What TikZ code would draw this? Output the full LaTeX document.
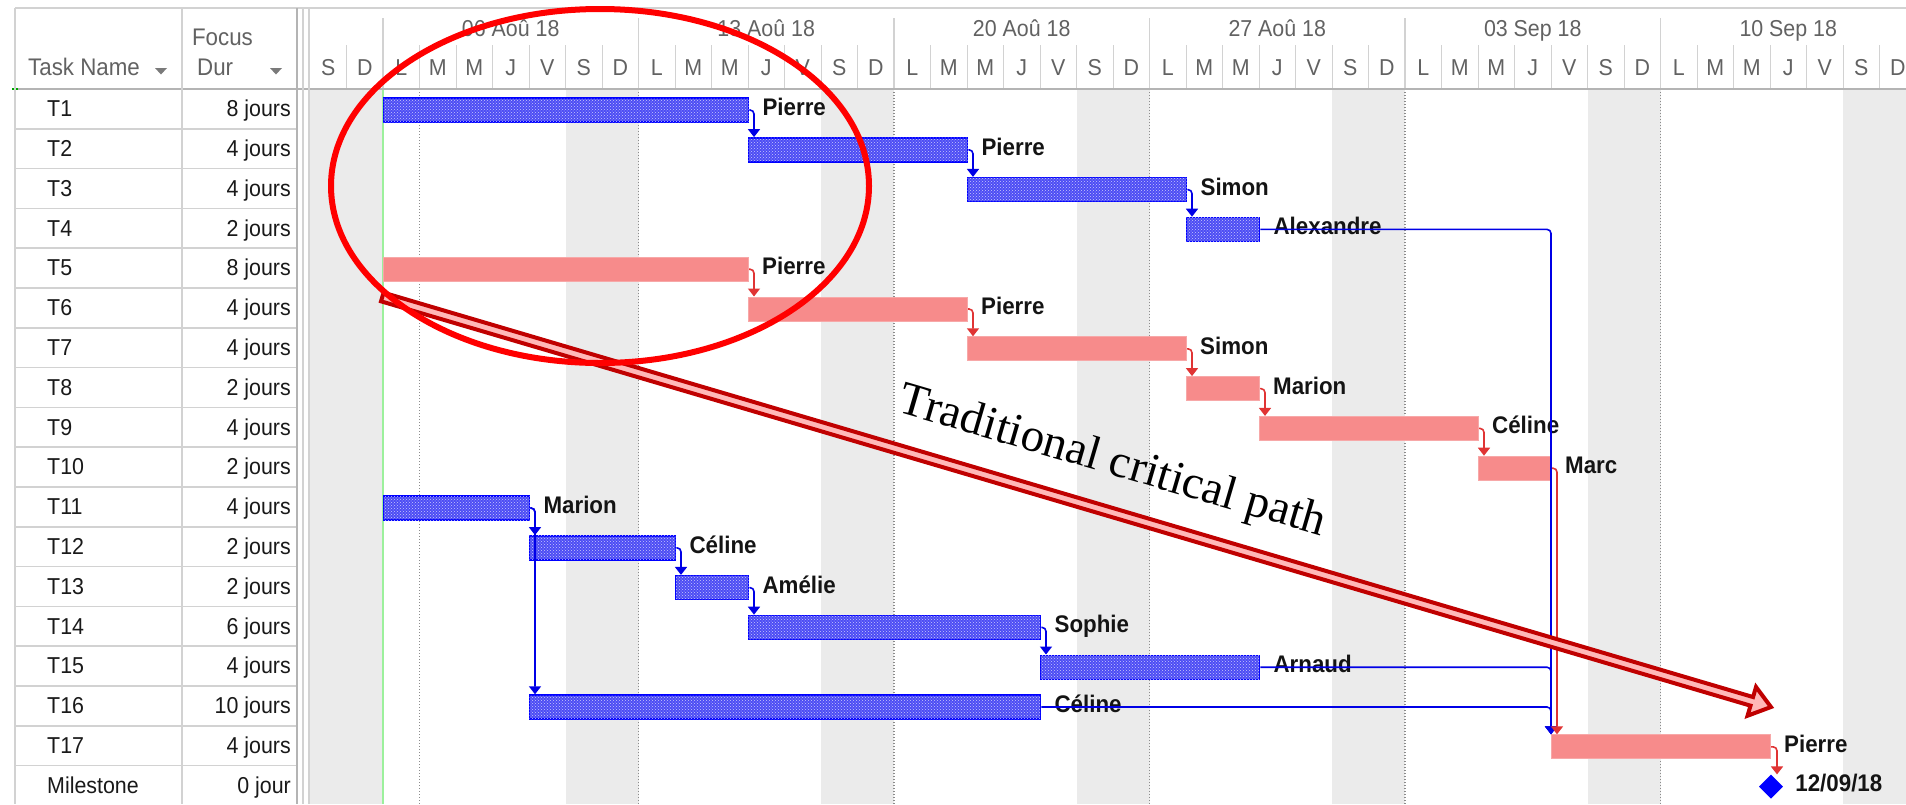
\documentclass[tikz,border=0pt]{standalone}
\usepackage{fontspec}
\newfontfamily\msfont{Liberation Sans}[FakeStretch=0.93]
\newfontfamily\serifont{Liberation Serif}
\usetikzlibrary{arrows.meta,shapes.geometric,patterns}

\definecolor{weekend}{HTML}{EBEBEB}
\definecolor{gridgray}{HTML}{D2D2D2}
\definecolor{rulegray}{HTML}{B4B4B4}
\definecolor{headgray}{HTML}{626262}
\definecolor{dotgray}{HTML}{8C8C8C}
\definecolor{barblue}{HTML}{4C4CF4}
\definecolor{linkblue}{HTML}{0000E6}
\definecolor{barred}{HTML}{F78B8B}
\definecolor{barredline}{HTML}{F7A8A8}
\definecolor{linkred}{HTML}{E03434}
\definecolor{pathdark}{HTML}{C00000}
\definecolor{pathpink}{HTML}{FFB8B8}
\definecolor{ringred}{HTML}{FF0000}
\definecolor{todaygreen}{HTML}{9CF09C}

% one Gantt bar: name, row, first day, end day, style, resource label
\newcommand\ganttbar[6]{%
  \pgfmathsetmacro\gbx{310+36.5*#3}%
  \pgfmathsetmacro\gbw{36.5*(#4-#3)}%
  \pgfmathsetmacro\gby{89+(#2-1)*39.8+21}%
  \node[#5, minimum width=\gbw pt, anchor=west] (#1) at (\gbx,\gby) {};%
  \node[reslabel] (#1r) at ([xshift=13pt,yshift=-5.5pt]#1.east) {#6};%
}

\begin{document}
\begin{tikzpicture}[x=1pt,y=-1pt,
  bluebar/.style={rectangle, inner sep=0pt, minimum height=24pt,
    draw=blue, line width=1.4pt, fill=barblue,
    postaction={pattern=crosshatch dots, pattern color=white!70!barblue}},
  redbar/.style={rectangle, inner sep=0pt, minimum height=24pt,
    draw=barredline, line width=1pt, fill=barred},
  reslabel/.style={anchor=base west, inner sep=0pt, text=black!92,
    font=\msfont\bfseries\fontsize{24}{28}\selectfont},
  celltext/.style={inner sep=0pt, text=black!90,
    font=\msfont\fontsize{23}{27}\selectfont},
  headtext/.style={inner sep=0pt, text=headgray,
    font=\msfont\fontsize{24}{28}\selectfont},
  daytext/.style={inner sep=0pt, text=headgray, anchor=base,
    font=\msfont\fontsize{23}{27}\selectfont},
  blink/.style={draw=linkblue, line width=1.6pt, rounded corners=4pt,
    -{Triangle[width=12pt,length=8pt]}},
  rlink/.style={draw=linkred, line width=1.6pt, rounded corners=4pt,
    -{Triangle[width=12pt,length=8pt]}},
]
\useasboundingbox (0,0) rectangle (1906,804);
\clip (0,0) rectangle (1906,804);
\fill[white] (0,0) rectangle (1906,804);

% weekend columns of the timescale
\foreach \k in {0,7,14,21,28,35,42}
  \fill[weekend] ({310+36.5*\k},89) rectangle ({310+36.5*(\k+2)},804);

% dotted gridlines and project start line
\foreach \k in {3,9,16,23,30,37}
  \draw[dotgray, line width=1.1pt, dash pattern=on 1.4pt off 1.6pt]
    ({310+36.5*\k},89) -- ({310+36.5*\k},804);
\draw[todaygreen, line width=1.3pt] (383,89) -- (383,804);

% header rules
\draw[gridgray, line width=1.5pt] (15,8) -- (1906,8);
\foreach \k in {1,...,43}
  \draw[gridgray, line width=1pt] ({310+36.5*\k},45) -- ({310+36.5*\k},88);
\foreach \k in {2,9,16,23,30,37}
  \draw[gridgray, line width=1.2pt] ({310+36.5*\k},18) -- ({310+36.5*\k},88);
\draw[rulegray, line width=2pt] (15,88.5) -- (1906,88.5);
\draw[green!65!black, line width=2pt] (12,88.5) -- (18,88.5);

% table grid
\foreach \i in {1,...,17}
  \draw[gridgray, line width=1.6pt] (15,{89+\i*39.8}) -- (297,{89+\i*39.8});
\foreach \xx in {15,182}
  \draw[gridgray, line width=1.6pt] (\xx,8) -- (\xx,804);
\draw[rulegray, line width=1.5pt] (297,8) -- (297,804);
\draw[gridgray, line width=1.5pt] (303,8) -- (303,804);
\draw[gridgray, line width=1.2pt] (309,8) -- (309,804);

% column headers
\node[headtext, anchor=base west] (hname) at (28,75) {Task Name};
\node[headtext, anchor=base] (hfocus) at (222.5,45.5) {Focus};
\node[headtext, anchor=base west] (hdur) at (197,75) {Dur};
\fill[headgray!85] (155,68) -- (167,68) -- (161,74.5) -- cycle;
\fill[headgray!85] (270,68) -- (282,68) -- (276,74.5) -- cycle;

% timescale labels
\foreach \lab [count=\j from 0] in {06 Aoû 18,13 Aoû 18,20 Aoû 18,27 Aoû 18,03 Sep 18,10 Sep 18}
  \node[daytext] (wk\j) at ({310+36.5*(5.5+7*\j)},36) {\lab};
\foreach \d [count=\k from 0] in {S,D,L,M,M,J,V,S,D,L,M,M,J,V,S,D,L,M,M,J,V,S,D,L,M,M,J,V,S,D,L,M,M,J,V,S,D,L,M,M,J,V,S,D}
  \node[daytext] (day\k) at ({310+36.5*(\k+0.5)},75.5) {\d};

% task table
\foreach \nm/\du [count=\i] in {T1/8 jours,T2/4 jours,T3/4 jours,T4/2 jours,T5/8 jours,T6/4 jours,T7/4 jours,T8/2 jours,T9/4 jours,T10/2 jours,T11/4 jours,T12/2 jours,T13/2 jours,T14/6 jours,T15/4 jours,T16/10 jours,T17/4 jours,Milestone/0 jour}{
  \node[celltext, anchor=base west] (name\i) at (47,{89+(\i-1)*39.8+27.7}) {\nm};
  \node[celltext, anchor=base east] (dur\i) at (291,{89+(\i-1)*39.8+27.7}) {\du};
}

% bars
\ganttbar{t1}{1}{2}{12}{bluebar}{Pierre}
\ganttbar{t2}{2}{12}{18}{bluebar}{Pierre}
\ganttbar{t3}{3}{18}{24}{bluebar}{Simon}
\ganttbar{t4}{4}{24}{26}{bluebar}{Alexandre}
\ganttbar{t5}{5}{2}{12}{redbar}{Pierre}
\ganttbar{t6}{6}{12}{18}{redbar}{Pierre}
\ganttbar{t7}{7}{18}{24}{redbar}{Simon}
\ganttbar{t8}{8}{24}{26}{redbar}{Marion}
\ganttbar{t9}{9}{26}{32}{redbar}{Céline}
\ganttbar{t10}{10}{32}{34}{redbar}{Marc}
\ganttbar{t11}{11}{2}{6}{bluebar}{Marion}
\ganttbar{t12}{12}{6}{10}{bluebar}{Céline}
\ganttbar{t13}{13}{10}{12}{bluebar}{Amélie}
\ganttbar{t14}{14}{12}{20}{bluebar}{Sophie}
\ganttbar{t15}{15}{20}{26}{bluebar}{Arnaud}
\ganttbar{t16}{16}{6}{20}{bluebar}{Céline}
\ganttbar{t17}{17}{34}{40}{redbar}{Pierre}

% milestone
\node[diamond, fill=blue, inner sep=0pt, minimum width=24pt, minimum height=24pt] (ms) at (1771,786.6) {};
\node[reslabel] (msr) at ([xshift=12pt,yshift=-4.5pt]ms.east) {12/09/18};

% finish-to-start links
\draw[blink] (t1.east) -| ([xshift=6pt]t2.north west);
\draw[blink] (t2.east) -| ([xshift=6pt]t3.north west);
\draw[blink] (t3.east) -| ([xshift=6pt]t4.north west);
\draw[blink] (t4.east) -| (t17.north west);
\draw[blink] (t11.east) -| ([xshift=6pt]t16.north west);
\draw[blink] (t11.east) -| ([xshift=6pt]t12.north west);
\draw[blink] (t12.east) -| ([xshift=6pt]t13.north west);
\draw[blink] (t13.east) -| ([xshift=6pt]t14.north west);
\draw[blink] (t14.east) -| ([xshift=6pt]t15.north west);
\draw[blink] (t15.east) -| (t17.north west);
\draw[blink] (t16.east) -| (t17.north west);
\draw[rlink] (t5.east) -| ([xshift=6pt]t6.north west);
\draw[rlink] (t6.east) -| ([xshift=6pt]t7.north west);
\draw[rlink] (t7.east) -| ([xshift=6pt]t8.north west);
\draw[rlink] (t8.east) -| ([xshift=6pt]t9.north west);
\draw[rlink] (t9.east) -| ([xshift=6pt]t10.north west);
\draw[rlink] (t10.east) -| ([xshift=6pt]t17.north west);
\draw[rlink] (t17.east) -| ([xshift=6pt]ms.north);

% critical path arrow
\begin{scope}[shift={(382.3,297)}, rotate=-16.45]
  \draw[pathdark, fill=pathpink, line width=4pt, miter limit=10]
    (0,-4.5) -- (1428,-4.5) -- (1428,-15) -- (1448,0) -- (1428,15)
    -- (1428,4.5) -- (0,4.5) -- cycle;
\end{scope}

% highlight ring
\draw[ringred, line width=6pt] (600,186) ellipse [x radius=269pt, y radius=177pt];

\node[font=\serifont\fontsize{47}{56}\selectfont, rotate=-16.3, anchor=base, inner sep=0pt]
  (cpath) at (1109,474) {Traditional critical path};
\end{tikzpicture}
\end{document}
